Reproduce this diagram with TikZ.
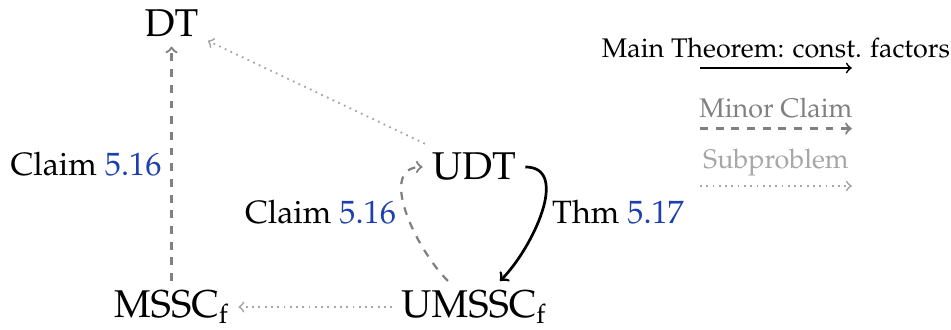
\documentclass[tikz,border=0pt,12pt]{standalone}
\usepackage[T1]{fontenc}
\usepackage{mathpazo}
\usepackage{xcolor}
\definecolor{refblue}{RGB}{30,64,175}
\newcommand{\thmref}[1]{\textcolor{refblue}{#1}}
\usepackage{tikz}
\tikzstyle{problem}=[font=\Large]
\tikzstyle{lbl}=[font=\large,text=black]
\tikzstyle{main}=[thick,->]
\tikzstyle{minor}=[line width=1pt,->,dash pattern=on 3.5pt off 3.5pt,gray]
\tikzstyle{subprob}=[thick,->,dotted,black!35]
\usetikzlibrary{arrows,positioning}

\begin{document}
\begin{tikzpicture}[>=to]
\useasboundingbox (0,0) rectangle (14.91,5.174);
\node (DT) [problem,anchor=base] at (2.689,4.594) {DT};
\node (UDT) [problem,anchor=base] at (7.431,2.352) {UDT};
\node (MSSC) [problem,anchor=base] at (2.689,0.2) {MSSC$_\mathrm{f}$};
\node (UMSSC) [problem,anchor=base] at (7.431,0.2) {UMSSC$_\mathrm{f}$};
\draw[minor] (MSSC)--node[lbl,left]{Claim \thmref{5.16}}(DT);
\draw[minor] (UMSSC) to[out=135,in=180] node[lbl,left]{Claim \thmref{5.16}} (UDT);
\draw[main,very thick] (UDT) to[out=0,in=45] node[lbl,right]{Thm \thmref{5.17}} (UMSSC);
\draw[subprob] (UDT)--(DT);
\draw[subprob] (UMSSC)--(MSSC);
% legend
\coordinate (m1) at (10.975,4.108);
\coordinate[right=2.38cm of m1] (m2);
\coordinate[below=0.95cm of m1] (c1);
\coordinate[right=2.38cm of c1] (c2);
\coordinate[below=0.9cm of c1] (s1);
\coordinate[right=2.38cm of s1] (s2);
\draw[main] (m1)--node[above]{Main Theorem: const. factors}(m2);
\draw[minor] (c1)--node[above]{Minor Claim}(c2);
\draw[subprob] (s1)--node[above]{Subproblem}(s2);
\end{tikzpicture}
\end{document}
